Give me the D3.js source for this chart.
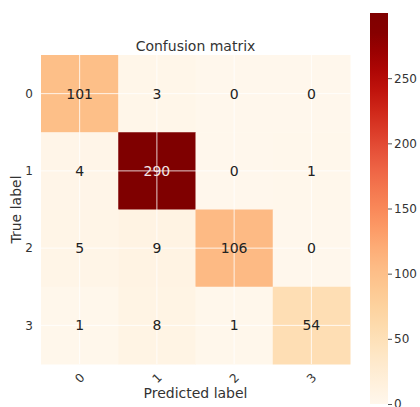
<!DOCTYPE html>
<html>
<head>
<meta charset="utf-8">
<script src="https://cdn.jsdelivr.net/npm/d3@7"></script>
<style>
  body { margin: 0; background: white; }
  text { font-family: "DejaVu Sans", sans-serif; }
</style>
</head>
<body>
<div id="chart"></div>
<script>
// data from the matrix
var trueLabels = ['0', '1', '2', '3'];
var predLabels = ['0', '1', '2', '3'];
var row0 = [101, 3, 0, 0];
var row1 = [4, 290, 0, 1];
var row2 = [5, 9, 106, 0];
var row3 = [1, 8, 1, 54];
var rows = [row0, row1, row2, row3];
var cbTicks = [0, 50, 100, 150, 200, 250];

var width = 420;
var height = 407;
// matrix box (not "top", that one is taken by window.top)
var mLeft = 41, mTop = 55, mSize = 309;

var cells = [];
rows.forEach(function (r, i) {
    r.forEach(function (v, j) {
        cells.push({ row: trueLabels[i], col: predLabels[j], value: v });
    });
});
var vmax = d3.max(cells, function (d) { return d.value; });

var svg = d3.select('#chart')
    .append('svg')
    .attr('width', width)
    .attr('height', height);

var x = d3.scaleBand().domain(predLabels).range([mLeft, mLeft + mSize]);
var y = d3.scaleBand().domain(trueLabels).range([mTop, mTop + mSize]);
var color = d3.scaleSequential(d3.interpolateOrRd).domain([0, vmax]);

// cells
svg.selectAll('rect.cell')
    .data(cells).enter()
    .append('rect')
    .attr('class', 'cell')
    .attr('x', function (d) { return x(d.col); })
    .attr('y', function (d) { return y(d.row); })
    .attr('width', x.bandwidth() + 0.5)
    .attr('height', y.bandwidth() + 0.5)
    .style('fill', function (d) { return color(d.value); });

// white grid lines through the cell centres
svg.selectAll('line.vgrid')
    .data(predLabels).enter()
    .append('line')
    .attr('x1', function (d) { return x(d) + x.bandwidth() / 2; })
    .attr('x2', function (d) { return x(d) + x.bandwidth() / 2; })
    .attr('y1', mTop)
    .attr('y2', mTop + mSize)
    .style('stroke', 'white')
    .style('stroke-opacity', 0.8)
    .style('stroke-width', 1);
svg.selectAll('line.hgrid')
    .data(trueLabels).enter()
    .append('line')
    .attr('y1', function (d) { return y(d) + y.bandwidth() / 2; })
    .attr('y2', function (d) { return y(d) + y.bandwidth() / 2; })
    .attr('x1', mLeft)
    .attr('x2', mLeft + mSize)
    .style('stroke', 'white')
    .style('stroke-opacity', 0.8)
    .style('stroke-width', 1);

// numbers
svg.selectAll('text.val')
    .data(cells).enter()
    .append('text')
    .attr('x', function (d) { return x(d.col) + x.bandwidth() / 2; })
    .attr('y', function (d) { return y(d.row) + y.bandwidth() / 2; })
    .attr('dy', '0.35em')
    .attr('text-anchor', 'middle')
    .style('font-size', '14px')
    .style('fill', function (d) { return d.value > vmax / 2 ? '#f3e6e6' : '#222'; })
    .text(function (d) { return d.value; });

// y ticks
svg.selectAll('text.ytick')
    .data(trueLabels).enter()
    .append('text')
    .attr('x', 33)
    .attr('y', function (d) { return y(d) + y.bandwidth() / 2; })
    .attr('dy', '0.35em')
    .attr('text-anchor', 'end')
    .style('font-size', '12px')
    .style('fill', '#333')
    .text(function (d) { return d; });

// x ticks, rotated 45
svg.selectAll('text.xtick')
    .data(predLabels).enter()
    .append('text')
    .attr('transform', function (d) {
        return 'translate(' + (x(d) + x.bandwidth() / 2) + ',' + 378 + ') rotate(-45)';
    })
    .attr('dy', '0.35em')
    .attr('text-anchor', 'middle')
    .style('font-size', '12px')
    .style('fill', '#333')
    .text(function (d) { return d; });

// titles
svg.append('text')
    .attr('x', mLeft + mSize / 2)
    .attr('y', 51)
    .attr('text-anchor', 'middle')
    .style('font-size', '14px')
    .style('fill', '#333')
    .text('Confusion matrix');
svg.append('text')
    .attr('x', mLeft + mSize / 2)
    .attr('y', 398)
    .attr('text-anchor', 'middle')
    .style('font-size', '14px')
    .style('fill', '#333')
    .text('Predicted label');
svg.append('text')
    .attr('transform', 'translate(21,' + (mTop + mSize / 2) + ') rotate(-90)')
    .attr('text-anchor', 'middle')
    .style('font-size', '14px')
    .style('fill', '#333')
    .text('True label');

// colorbar
var cbX = 370, cbW = 18, cbTop = 13, cbBottom = 404;
var cbScale = d3.scaleLinear().domain([0, 300]).range([cbBottom, cbTop]);
var grad = svg.append('defs').append('linearGradient')
    .attr('id', 'cb')
    .attr('x1', 0).attr('y1', 1).attr('x2', 0).attr('y2', 0);
d3.range(0, 1.001, 0.05).forEach(function (t) {
    grad.append('stop')
        .attr('offset', t)
        .attr('stop-color', color(Math.min(t * 300, vmax)));
});
svg.append('rect')
    .attr('x', cbX)
    .attr('y', cbTop)
    .attr('width', cbW)
    .attr('height', cbBottom - cbTop)
    .style('fill', 'url(#cb)');

var cbAxis = d3.axisRight(cbScale).tickValues(cbTicks).tickSize(4).tickPadding(2);
var cbG = svg.append('g')
    .attr('transform', 'translate(' + (cbX + cbW) + ',0)')
    .call(cbAxis);
cbG.select('.domain').remove();
cbG.selectAll('line').style('stroke', '#555');
cbG.selectAll('text')
    .style('font-size', '12px')
    .style('font-family', '"DejaVu Sans", sans-serif')
    .style('fill', '#333');
</script>
</body>
</html>
